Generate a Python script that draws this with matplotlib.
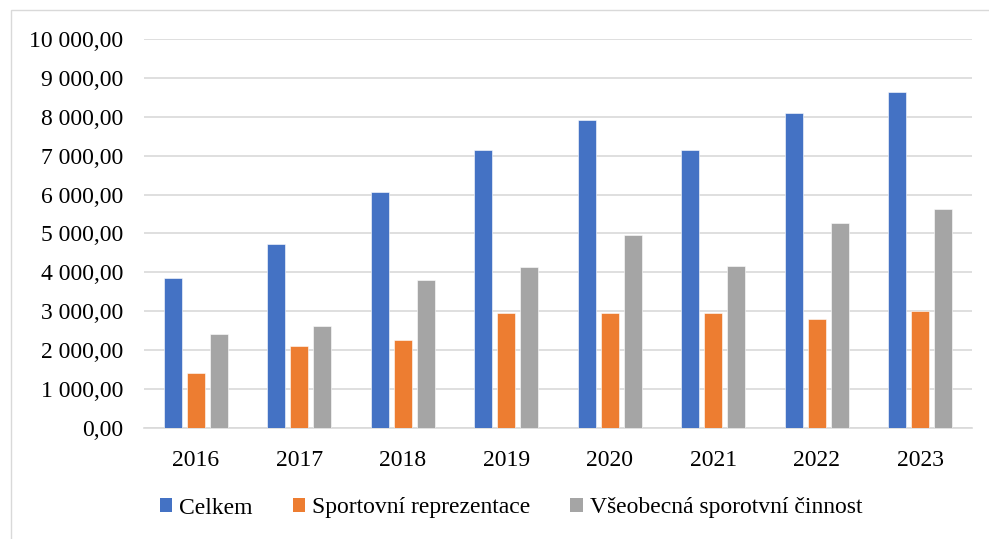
import numpy as np
import matplotlib.pyplot as plt
from matplotlib.patches import Patch, Rectangle
from matplotlib.ticker import FuncFormatter, MultipleLocator

plt.rcParams['font.family'] = ['Liberation Serif', 'DejaVu Serif']

# data
years = ['2016', '2017', '2018', '2019', '2020', '2021', '2022', '2023']
celkem = [3850, 4740, 6070, 7140, 7920, 7140, 8110, 8640]
reprezentace = [1425, 2110, 2250, 2950, 2945, 2945, 2800, 3000]
vseobecna = [2405, 2620, 3800, 4150, 4950, 4165, 5275, 5630]

series = [('Celkem', celkem, '#4472C4'),
          ('Sportovní reprezentace', reprezentace, '#ED7D31'),
          ('Všeobecná sporotvní činnost', vseobecna, '#A5A5A5')]


def fmt_cz(v, pos):
    s = '{:,.2f}'.format(v)
    return s.replace(',', ' ').replace('.', ',')


if __name__ == '__main__':

    fig = plt.figure(figsize=(9.89, 5.39), dpi=100)
    ax = fig.add_axes([144/989, 111/539, 828/989, 389/539])

    # light outer frame like the Excel chart area
    fig.patches.append(Rectangle((10.5/989, -0.1), 1.2, (539 - 10.5)/539 + 0.1,
                                 transform=fig.transFigure, fill=False,
                                 edgecolor='#D9D9D9', linewidth=1))

    x = np.arange(len(years))
    width = 0.177
    step = 0.222
    for i, (name, vals, col) in enumerate(series):
        ax.bar(x + (i - 1)*step, vals, width=width, color=col, edgecolor='white',
               linewidth=0.4, zorder=3)

    ax.set_xlim(-0.5, len(years) - 0.5)
    ax.set_ylim(0, 10000)
    ax.yaxis.set_major_locator(MultipleLocator(1000))
    ax.yaxis.set_major_formatter(FuncFormatter(fmt_cz))
    ax.set_xticks(x)
    ax.set_xticklabels(years)

    # grid and spines
    ax.grid(axis='y', color='#D9D9D9', linewidth=1.2, zorder=0)
    for side in ['top', 'right', 'left']:
        ax.spines[side].set_visible(False)
    ax.spines['bottom'].set_color('#D9D9D9')
    ax.spines['bottom'].set_linewidth(1.2)
    ax.tick_params(axis='both', length=0, labelsize=17, colors='black')
    ax.tick_params(axis='y', pad=15)
    ax.tick_params(axis='x', pad=16)

    # legend
    handles = [Patch(facecolor=col, label=name) for name, vals, col in series]
    fig.legend(handles=handles, loc='center', bbox_to_anchor=(511/989, 1 - 508/539),
               ncol=3, frameon=False, fontsize=17, handlelength=0.52, handleheight=0.52,
               handletextpad=0.3, columnspacing=1.7)

    plt.savefig('out.png', dpi=100)
